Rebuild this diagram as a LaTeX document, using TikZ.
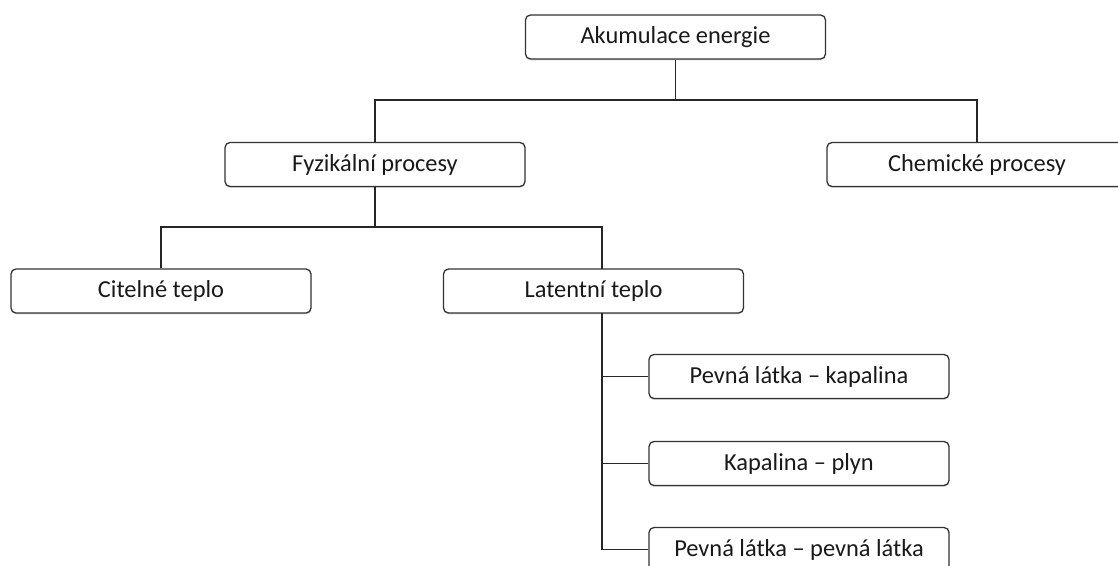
\documentclass[tikz,border=0pt]{standalone}
\usepackage{fontspec}
\setmainfont{Carlito}
\usetikzlibrary{shadows}

\tikzset{
    box/.style={draw=black!80, line width=0.65pt, rounded corners=2.5pt, fill=white,
        minimum width=150pt, minimum height=22pt, inner sep=0pt,
        font=\fontsize{12.2}{14}\selectfont, text=black!90,
        drop shadow={shadow xshift=0pt, shadow yshift=-0.7pt, fill=black!25, opacity=0.6}},
    link/.style={draw=black!85, line width=0.65pt}
}

\begin{document}
\begin{tikzpicture}[x=0.5pt, y=-0.5pt]
    \useasboundingbox (0,0) rectangle (1118,566);
    \clip (0,0) rectangle (1118,566);

    % top level
    \node[box] (akum) at (675.5,37) {Akumulace energie};

    % second level
    \node[box] (fyz) at (375,164.5) {Fyzikální procesy};
    \node[box] (chem) at (977,164.5) {Chemické procesy};

    % physical processes
    \node[box] (cit) at (161,291) {Citelné teplo};
    \node[box] (lat) at (593.5,291) {Latentní teplo};

    % phase changes
    \node[box] (pk) at (799,376.5) {Pevná látka – kapalina};
    \node[box] (kp) at (799,463.5) {Kapalina – plyn};
    \node[box] (pp) at (799,549.5) {Pevná látka – pevná látka};

    % connectors from Akumulace energie
    \coordinate (j1) at (675.5,100);
    \draw[link] (akum.south) -- (j1);
    \draw[link] (fyz.north) |- (j1) -| (chem.north);

    % connectors from Fyzikální procesy
    \coordinate (j2) at (375,227);
    \coordinate (latin) at (602,269);
    \draw[link] (fyz.south) -- (j2);
    \draw[link] (cit.north) |- (j2) -| (latin);

    % connectors from Latentní teplo
    \coordinate (trunk) at (602,313);
    \draw[link] (trunk) |- (pp.west);
    \draw[link] (trunk |- pk.west) -- (pk.west);
    \draw[link] (trunk |- kp.west) -- (kp.west);
\end{tikzpicture}
\end{document}
